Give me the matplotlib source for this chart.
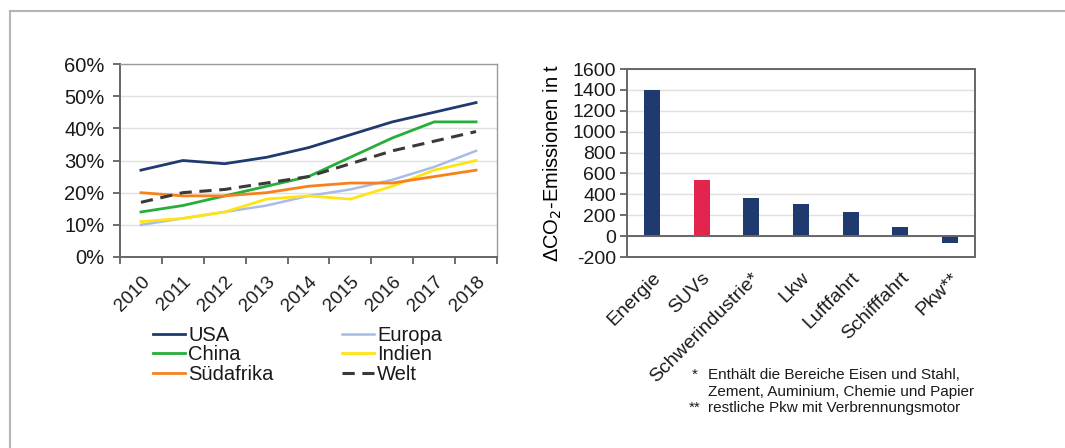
import matplotlib
matplotlib.use("Agg")
import matplotlib.pyplot as plt
from matplotlib.lines import Line2D
import numpy as np

plt.rcParams['font.family'] = ['Liberation Sans', 'DejaVu Sans']
plt.rcParams['text.color'] = '#1a1a1a'
plt.rcParams['xtick.color'] = '#555555'
plt.rcParams['ytick.color'] = '#555555'
plt.rcParams['xtick.labelcolor'] = '#1a1a1a'
plt.rcParams['ytick.labelcolor'] = '#1a1a1a'

# Share of SUVs in new car sales per region
years = ['2010', '2011', '2012', '2013', '2014', '2015', '2016', '2017', '2018']
usa = [27, 30, 29, 31, 34, 38, 42, 45, 48]
europa = [10, 12, 14, 16, 19, 21, 24, 28, 33]
china = [14, 16, 19, 22, 25, 31, 37, 42, 42]
indien = [11, 12, 14, 18, 19, 18, 22, 27, 30]
suedafrika = [20, 19, 19, 20, 22, 23, 23, 25, 27]
welt = [17, 20, 21, 23, 25, 29, 33, 36, 39]

# Change in CO2 emissions by sector
sectors = ['Energie', 'SUVs', 'Schwerindustrie*', 'Lkw', 'Luftfahrt', 'Schifffahrt', 'Pkw**']
delta_co2 = [1400, 540, 365, 310, 235, 85, -70]

navy = '#1f3a6e'
red = '#e2244f'

fig = plt.figure(figsize=(10.65, 4.48), dpi=100)

# Outer frame
fig.add_artist(Line2D([10/1065, 10/1065], [0, 1 - 11/448], transform=fig.transFigure,
                      color='#b5b5b5', lw=1.5))
fig.add_artist(Line2D([10/1065, 1], [1 - 11/448, 1 - 11/448], transform=fig.transFigure,
                      color='#b5b5b5', lw=1.5))

# ---- left: line chart ----
ax1 = fig.add_axes([120/1065, 1 - 257/448, 377/1065, 193/448])
x = np.arange(len(years))
series = [
    ('USA', usa, dict(color='#1f3a6e', lw=2.0)),
    ('Europa', europa, dict(color='#a9bbe8', lw=1.8)),
    ('China', china, dict(color='#27ad3a', lw=2.0)),
    ('Indien', indien, dict(color='#ffe414', lw=2.0)),
    ('Südafrika', suedafrika, dict(color='#f5821f', lw=2.0)),
    ('Welt', welt, dict(color='#3a3a3a', lw=2.2, dashes=(4, 2.5))),
]
handles = {}
for name, vals, style in series:
    h, = ax1.plot(x, vals, label=name, **style)
    handles[name] = h

ax1.set_xlim(-0.5, len(years) - 0.5)
ax1.set_ylim(0, 60)
ax1.set_yticks(np.arange(0, 61, 10))
ax1.set_yticklabels([f'{v}%' for v in range(0, 61, 10)], fontsize=14.5)
ax1.set_xticks(x)
ax1.set_xticklabels(years, rotation=45, ha='right', rotation_mode='anchor', fontsize=13.5)
ax1.set_xticks(np.arange(-0.5, len(years), 1), minor=True)
ax1.tick_params(axis='x', which='major', length=0, pad=12)
ax1.tick_params(axis='x', which='minor', length=5, width=1.2, direction='out')
ax1.tick_params(axis='y', length=5, width=1.2, direction='out', pad=6)
ax1.yaxis.grid(True, color='#e0e0e0', lw=1.0)
ax1.set_axisbelow(True)
for s in ['left', 'bottom']:
    ax1.spines[s].set_color('#666666')
    ax1.spines[s].set_linewidth(1.4)
for s in ['top', 'right']:
    ax1.spines[s].set_color('#9a9a9a')
    ax1.spines[s].set_linewidth(1.0)

order = ['USA', 'China', 'Südafrika', 'Europa', 'Indien', 'Welt']
fig.legend([handles[n] for n in order], order, ncol=2, loc='upper left',
           bbox_to_anchor=(153/1065, 1 - 326/448), frameon=False, fontsize=14.5,
           handlelength=1.6, handletextpad=0.15, columnspacing=3.4,
           labelspacing=0.02, borderpad=0, borderaxespad=0)

# ---- right: bar chart ----
ax2 = fig.add_axes([627/1065, 1 - 257/448, 348/1065, 188/448])
xb = np.arange(len(sectors))
ax2.bar(xb, delta_co2, width=0.32,
        color=[red if s == 'SUVs' else navy for s in sectors], zorder=3)
ax2.set_xlim(-0.5, len(sectors) - 0.5)
ax2.set_ylim(-200, 1600)
ax2.set_yticks(np.arange(-200, 1601, 200))
ax2.set_yticklabels([str(v) for v in range(-200, 1601, 200)], fontsize=14)
ax2.set_xticks(xb)
ax2.set_xticklabels(sectors, rotation=45, ha='right', rotation_mode='anchor', fontsize=14)
ax2.tick_params(axis='x', length=0, pad=9)
ax2.tick_params(axis='y', length=5, width=1.2, direction='out', pad=3)
ax2.yaxis.grid(True, color='#e0e0e0', lw=1.0)
ax2.axhline(0, color='#666666', lw=1.4, zorder=4)
ax2.set_axisbelow(True)
for s in ax2.spines.values():
    s.set_color('#666666')
    s.set_linewidth(1.4)
ax2.set_ylabel('ΔCO$_2$-Emissionen in t', fontsize=14.5, labelpad=6)

# Footnotes
fs = 11
fig.text(692/1065, 1 - 375/448, '*', fontsize=fs, va='center')
fig.text(708/1065, 1 - 375/448, 'Enthält die Bereiche Eisen und Stahl,', fontsize=fs, va='center')
fig.text(708/1065, 1 - 392/448, 'Zement, Auminium, Chemie und Papier', fontsize=fs, va='center')
fig.text(689/1065, 1 - 408/448, '**', fontsize=fs, va='center')
fig.text(708/1065, 1 - 408/448, 'restliche Pkw mit Verbrennungsmotor', fontsize=fs, va='center')

fig.savefig('out.png', dpi=100)
